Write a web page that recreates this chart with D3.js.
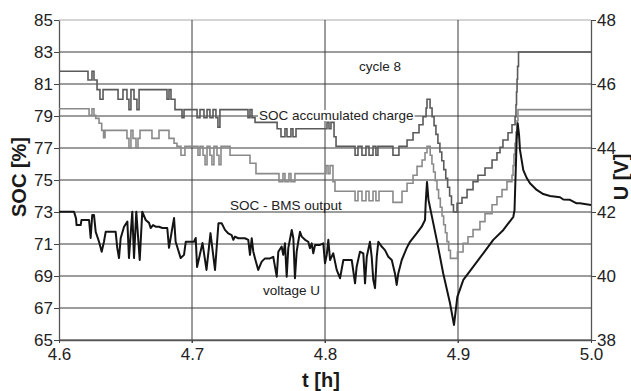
<!DOCTYPE html>
<html>
<head>
<meta charset="utf-8">
<script src="https://cdn.jsdelivr.net/npm/d3@7"></script>
<style>
    body { margin: 0; background: #fff; }
    svg { display: block; }
    text { font-family: "Liberation Sans", Arial, sans-serif; }
</style>
</head>
<body>
<div id="chart"></div>
<script>
// Tick values
let timeTicks = [4.6, 4.7, 4.8, 4.9, 5.0]
let socTicks = [65, 67, 69, 71, 73, 75, 77, 79, 81, 83, 85]
let voltTicks = [38, 40, 42, 44, 46, 48]

// SOC from accumulated charge [t (h), SOC (%)] - value holds until next point
let socAccumulated = [
    [4.6000, 81.8], [4.6218, 81.25], [4.6248, 81.8], [4.6263, 81.25], [4.6286, 80.65],
    [4.6308, 80.05], [4.6331, 80.65], [4.6444, 80.05], [4.6481, 80.65], [4.6511, 80.05],
    [4.6526, 79.4], [4.6541, 80.65], [4.6564, 80.05], [4.6586, 79.4], [4.6602, 80.65],
    [4.6812, 80.05], [4.6827, 80.65], [4.6842, 80.05], [4.6872, 79.4], [4.6925, 78.9],
    [4.6940, 79.4], [4.7038, 78.9], [4.7060, 79.4], [4.7090, 78.9], [4.7113, 79.4],
    [4.7135, 78.9], [4.7158, 79.4], [4.7180, 78.9], [4.7195, 78.3], [4.7210, 79.4],
    [4.7421, 78.9], [4.7436, 79.4], [4.7451, 78.9], [4.7474, 78.6], [4.7640, 78.2],
    [4.7669, 77.7], [4.7699, 78.2], [4.7714, 77.7], [4.7744, 78.2], [4.7759, 77.7],
    [4.7782, 78.2], [4.8015, 78.6], [4.8030, 78.2], [4.8045, 78.6], [4.8068, 77.7],
    [4.8083, 77.1], [4.8226, 76.55], [4.8248, 77.1], [4.8278, 76.55], [4.8308, 77.1],
    [4.8331, 76.55], [4.8361, 77.1], [4.8383, 76.55], [4.8398, 77.1], [4.8511, 76.55],
    [4.8556, 77.1], [4.8617, 77.5], [4.8662, 77.95], [4.8707, 78.45], [4.8737, 78.95],
    [4.8760, 79.5], [4.8767, 80.05], [4.8790, 79.5], [4.8805, 78.95], [4.8820, 78.4],
    [4.8834, 77.85], [4.8849, 77.3], [4.8864, 76.75], [4.8878, 76.2], [4.8893, 75.65],
    [4.8908, 75.1], [4.8922, 74.55], [4.8937, 74.0], [4.8951, 73.45], [4.8966, 73.0],
    [4.8993, 73.55], [4.9030, 73.9], [4.9068, 74.4], [4.9113, 74.9], [4.9150, 75.3],
    [4.9203, 75.75], [4.9256, 76.25], [4.9293, 76.7], [4.9316, 77.05], [4.9338, 77.5],
    [4.9376, 77.95], [4.9406, 78.45], [4.9429, 78.95], [4.9436, 79.7], [4.9440, 80.5],
    [4.9444, 81.3], [4.9448, 82.1], [4.9455, 83.0], [5.0000, 83.0]
]

// SOC reported by the BMS [t (h), SOC (%)]
let socBms = [
    [4.6000, 79.45], [4.6226, 79.05], [4.6248, 79.45], [4.6263, 79.05], [4.6276, 78.85],
    [4.6301, 78.55], [4.6321, 78.1], [4.6335, 77.65], [4.6346, 78.1], [4.6511, 77.6],
    [4.6526, 77.0], [4.6541, 78.1], [4.6556, 77.6], [4.6579, 77.0], [4.6594, 77.6],
    [4.6609, 78.1], [4.6699, 77.6], [4.6752, 78.1], [4.6827, 77.6], [4.6865, 77.3],
    [4.6887, 77.1], [4.6917, 76.55], [4.6947, 77.1], [4.7045, 76.55], [4.7060, 77.1],
    [4.7083, 76.55], [4.7098, 75.95], [4.7113, 77.1], [4.7135, 76.55], [4.7150, 75.95],
    [4.7165, 77.1], [4.7188, 76.55], [4.7203, 75.95], [4.7218, 77.1], [4.7286, 76.55],
    [4.7436, 76.05], [4.7481, 75.4], [4.7654, 74.9], [4.7684, 75.4], [4.7699, 74.9],
    [4.7729, 75.4], [4.7744, 74.9], [4.7774, 75.4], [4.8008, 75.9], [4.8023, 75.4],
    [4.8038, 75.9], [4.8060, 74.9], [4.8075, 74.3], [4.8226, 73.7], [4.8248, 74.3],
    [4.8278, 73.7], [4.8308, 74.3], [4.8331, 73.7], [4.8361, 74.3], [4.8383, 73.7],
    [4.8406, 74.3], [4.8511, 73.6], [4.8579, 74.3], [4.8617, 74.8], [4.8662, 75.3],
    [4.8692, 75.85], [4.8730, 76.25], [4.8752, 76.7], [4.8767, 77.1], [4.8791, 76.55],
    [4.8804, 76.0], [4.8816, 75.5], [4.8829, 74.95], [4.8842, 74.4], [4.8854, 73.85],
    [4.8867, 73.3], [4.8880, 72.75], [4.8892, 72.2], [4.8905, 71.7], [4.8917, 71.15],
    [4.8930, 70.6], [4.8943, 70.1], [4.8996, 70.5], [4.9038, 71.05], [4.9075, 71.45],
    [4.9113, 71.9], [4.9165, 72.4], [4.9203, 72.9], [4.9256, 73.45], [4.9293, 73.95],
    [4.9331, 74.4], [4.9368, 74.9], [4.9406, 75.3], [4.9414, 75.9], [4.9421, 76.6],
    [4.9429, 77.3], [4.9436, 78.0], [4.9444, 78.7], [4.9451, 79.4], [5.0000, 79.4]
]

// Battery voltage [t (h), U (V)]
let voltageU = [
    [4.6000, 42.01], [4.6113, 42.01], [4.6128, 41.80], [4.6132, 41.59], [4.6163, 41.59],
    [4.6169, 41.75], [4.6226, 41.75], [4.6238, 41.19], [4.6250, 41.91], [4.6263, 41.91],
    [4.6276, 41.38], [4.6301, 41.07], [4.6321, 40.76], [4.6338, 41.07], [4.6351, 41.38],
    [4.6426, 41.38], [4.6438, 40.88], [4.6451, 40.56], [4.6464, 41.19], [4.6489, 41.54],
    [4.6514, 41.70], [4.6526, 40.56], [4.6551, 42.01], [4.6564, 40.56], [4.6581, 42.01],
    [4.6607, 40.50], [4.6626, 42.01], [4.6652, 41.75], [4.6677, 41.66], [4.6689, 41.50],
    [4.6707, 41.59], [4.6727, 41.54], [4.6752, 41.54], [4.6777, 41.50], [4.6814, 41.50],
    [4.6827, 40.88], [4.6852, 41.50], [4.6865, 41.81], [4.6877, 41.07], [4.6915, 40.56],
    [4.6940, 40.66], [4.6953, 41.07], [4.7015, 41.07], [4.7028, 41.19], [4.7038, 40.28],
    [4.7079, 41.03], [4.7109, 40.19], [4.7139, 41.34], [4.7173, 40.19], [4.7199, 41.65],
    [4.7223, 41.65], [4.7248, 41.44], [4.7273, 41.33], [4.7298, 41.28], [4.7311, 41.13],
    [4.7323, 41.23], [4.7348, 41.18], [4.7398, 41.18], [4.7423, 41.13], [4.7436, 40.66],
    [4.7449, 41.18], [4.7461, 40.76], [4.7474, 40.55], [4.7498, 40.19], [4.7524, 40.45],
    [4.7549, 40.55], [4.7586, 40.55], [4.7611, 40.60], [4.7637, 39.98], [4.7649, 40.76],
    [4.7674, 40.92], [4.7686, 40.66], [4.7699, 41.02], [4.7712, 39.98], [4.7724, 40.87],
    [4.7750, 41.44], [4.7762, 41.18], [4.7774, 39.93], [4.7787, 40.76], [4.7799, 41.07],
    [4.7812, 41.38], [4.7825, 41.23], [4.7850, 41.13], [4.7874, 41.07], [4.7887, 40.87],
    [4.7900, 41.02], [4.7912, 40.71], [4.7925, 40.97], [4.7962, 40.97], [4.7987, 41.02],
    [4.8000, 40.40], [4.8013, 40.66], [4.8025, 41.13], [4.8038, 40.50], [4.8062, 40.71],
    [4.8088, 40.19], [4.8113, 39.93], [4.8138, 40.50], [4.8201, 40.50], [4.8226, 39.77],
    [4.8238, 40.29], [4.8263, 40.76], [4.8288, 40.71], [4.8301, 39.77], [4.8314, 40.60],
    [4.8338, 41.07], [4.8351, 40.60], [4.8363, 39.88], [4.8376, 39.62], [4.8389, 40.60],
    [4.8401, 41.07], [4.8426, 40.92], [4.8451, 40.81], [4.8476, 40.60], [4.8502, 40.50],
    [4.8526, 40.08], [4.8539, 39.72], [4.8551, 40.08], [4.8577, 40.50], [4.8614, 40.87],
    [4.8639, 41.07], [4.8689, 41.33], [4.8727, 41.54], [4.8752, 41.75], [4.8757, 42.27],
    [4.8767, 42.94], [4.8778, 42.38], [4.8840, 41.13], [4.8889, 40.08], [4.8940, 39.15],
    [4.8970, 38.47], [4.8995, 39.35], [4.9040, 39.88], [4.9115, 40.29], [4.9190, 40.71],
    [4.9265, 41.13], [4.9341, 41.44], [4.9416, 41.85], [4.9425, 42.06], [4.9441, 44.25],
    [4.9449, 44.77], [4.9459, 44.41], [4.9466, 43.94], [4.9491, 43.31], [4.9517, 43.06],
    [4.9541, 42.90], [4.9592, 42.69], [4.9641, 42.56], [4.9692, 42.50], [4.9767, 42.46],
    [4.9792, 42.39], [4.9842, 42.38], [4.9892, 42.27], [4.9917, 42.27], [5.0000, 42.22]
]

let width = 631
let height = 391
let margin = {top: 20, right: 40, bottom: 51, left: 59}

let svg = d3.select('#chart')
    .append('svg')
    .attr('width', width)
    .attr('height', height)

// Scales
let x = d3.scaleLinear()
    .domain([4.6, 5.0])
    .range([margin.left, width - margin.right])

let ySoc = d3.scaleLinear()
    .domain([65, 85])
    .range([height - margin.bottom, margin.top])

let yU = d3.scaleLinear()
    .domain([38, 48])
    .range([height - margin.bottom, margin.top])

// Grid lines
let grid = svg.append('g').attr('class', 'grid')

grid.selectAll('line.h')
    .data(socTicks)
    .enter().append('line')
    .attr('class', 'h')
    .attr('x1', x(4.6))
    .attr('x2', x(5.0))
    .attr('y1', d => ySoc(d))
    .attr('y2', d => ySoc(d))
    .attr('stroke', d => d === 85 ? '#aaa' : '#3a3a3a')
    .attr('stroke-width', 1)

grid.selectAll('line.v')
    .data(timeTicks.slice(1, -1))
    .enter().append('line')
    .attr('class', 'v')
    .attr('x1', d => x(d))
    .attr('x2', d => x(d))
    .attr('y1', ySoc(85))
    .attr('y2', ySoc(65) + 3)
    .attr('stroke', '#3a3a3a')
    .attr('stroke-width', 1)

// Axes
function styleAxis (g, size) {
    g.attr('font-family', '"Liberation Sans", Arial, sans-serif')
        .attr('font-size', size)
    g.selectAll('text').attr('fill', '#222')
    g.selectAll('line').attr('stroke', '#444')
    g.select('.domain').attr('stroke', '#555').attr('stroke-width', 1.3)
}

svg.append('g')
    .attr('transform', 'translate(' + margin.left + ',0)')
    .call(d3.axisLeft(ySoc).tickValues(socTicks).tickSize(5).tickSizeOuter(0).tickPadding(1))
    .call(g => styleAxis(g, 17))

svg.append('g')
    .attr('transform', 'translate(' + (width - margin.right) + ',0)')
    .call(d3.axisRight(yU).tickValues(voltTicks).tickSize(5).tickSizeOuter(0).tickPadding(1))
    .call(g => styleAxis(g, 17))

svg.append('g')
    .attr('transform', 'translate(0,' + (height - margin.bottom) + ')')
    .call(d3.axisBottom(x).tickValues(timeTicks).tickFormat(d3.format('.1f')).tickSize(3).tickSizeOuter(0).tickPadding(5))
    .call(g => styleAxis(g, 17))

// Series
let stepLine = d3.line()
    .x(d => x(d[0]))
    .y(d => ySoc(d[1]))
    .curve(d3.curveStepAfter)

let voltLine = d3.line()
    .x(d => x(d[0]))
    .y(d => yU(d[1]))

svg.append('path')
    .datum(socBms)
    .attr('d', stepLine)
    .attr('fill', 'none')
    .attr('stroke', '#8a8a8a')
    .attr('stroke-width', 1.6)

svg.append('path')
    .datum(socAccumulated)
    .attr('d', stepLine)
    .attr('fill', 'none')
    .attr('stroke', '#5a5a5a')
    .attr('stroke-width', 1.6)

svg.append('path')
    .datum(voltageU)
    .attr('d', voltLine)
    .attr('fill', 'none')
    .attr('stroke', '#141414')
    .attr('stroke-width', 2)
    .attr('stroke-linejoin', 'round')

// Annotations
function note (tx, ty, label, bg) {
    let t = svg.append('text')
        .attr('x', tx)
        .attr('y', ty)
        .attr('font-size', 13.5)
        .attr('fill', '#222')
        .text(label)
    if (bg) {
        let b = t.node().getBBox()
        svg.insert('rect', () => t.node())
            .attr('x', b.x - 1)
            .attr('y', b.y + 2)
            .attr('width', b.width + 2)
            .attr('height', b.height - 4)
            .attr('fill', '#fff')
    }
}

note(359, 71, 'cycle 8')
note(259, 120, 'SOC accumulated charge', true)
note(230, 210, 'SOC - BMS output')
note(263, 295, 'voltage U')

// Axis titles
svg.append('text')
    .attr('transform', 'translate(25.5,177) rotate(-90)')
    .attr('text-anchor', 'middle')
    .attr('font-size', 20)
    .attr('font-weight', 'bold')
    .attr('fill', '#1a1a1a')
    .text('SOC [%]')

svg.append('text')
    .attr('transform', 'translate(628,177) rotate(-90)')
    .attr('text-anchor', 'middle')
    .attr('font-size', 20)
    .attr('font-weight', 'bold')
    .attr('fill', '#1a1a1a')
    .text('U [V]')

svg.append('text')
    .attr('x', 321)
    .attr('y', 387)
    .attr('text-anchor', 'middle')
    .attr('font-size', 20)
    .attr('font-weight', 'bold')
    .attr('fill', '#1a1a1a')
    .text('t [h]')
</script>
</body>
</html>
